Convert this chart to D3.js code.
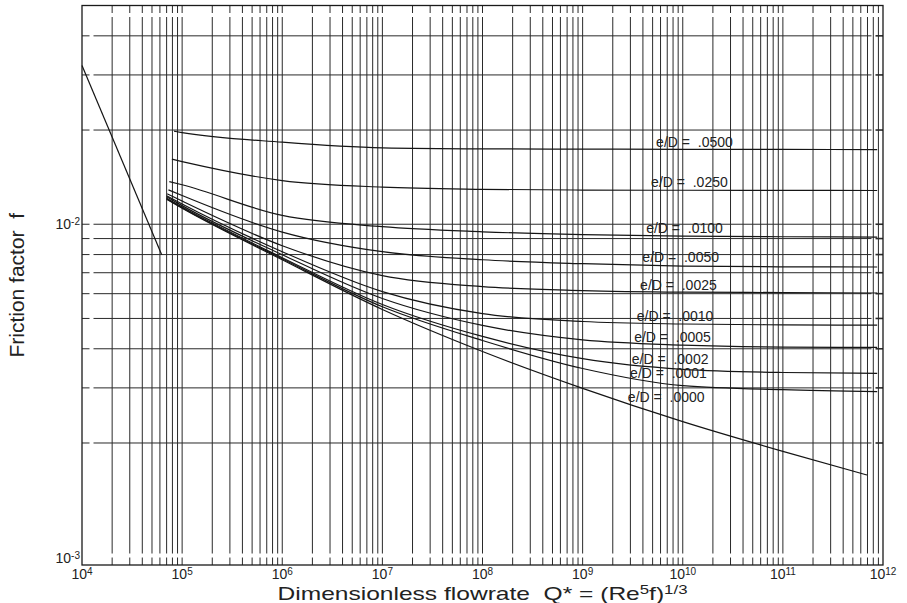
<!DOCTYPE html>
<html>
<head>
<meta charset="utf-8">
<script src="https://cdn.jsdelivr.net/npm/d3@7/dist/d3.min.js"></script>
<style>
  html, body { margin: 0; padding: 0; background: #fff; }
  svg { display: block; }
  text { font-family: "Liberation Sans", Arial, Helvetica, sans-serif; fill: #222; }
</style>
</head>
<body>
<svg id="chart" width="907" height="603"></svg>
<script>
// Relative roughness of each turbulent curve (label text)
const roughness = [".0500", ".0250", ".0100", ".0050", ".0025", ".0010", ".0005", ".0002", ".0001", ".0000"];

// Flowrate Q* where each turbulent curve begins and ends
const qStart = [8.3e4, 7.9e4, 7.45e4, 7.3e4, 7.1e4, 7.0e4, 7.0e4, 7.0e4, 7.0e4, 7.0e4];
const qEnd   = [8.75e11, 8.75e11, 8.75e11, 8.75e11, 8.75e11, 8.75e11, 8.75e11, 8.75e11, 8.75e11, 6.95e11];
// Interior flowrates shared by all curves
const qInner = [1e5, 1e6, 1e7, 1e8, 1e9, 1e10, 1e11];

// Friction factor along each curve: [start, 1e5, 1e6, 1e7, 1e8, 1e9, 1e10, 1e11, end]
const f0500 = [0.01983, 0.01963, 0.01829, 0.01754, 0.01741, 0.01738, 0.01735, 0.01734, 0.01732];
const f0250 = [0.01614, 0.01586, 0.01379, 0.01314, 0.01293, 0.01286, 0.01284, 0.01283, 0.01282];
const f0100 = [0.01369, 0.01337, 0.01067, 0.00982, 0.00946, 0.00926, 0.00916, 0.00912, 0.00910];
const f0050 = [0.01288, 0.01235, 0.00944, 0.00817, 0.00770, 0.00748, 0.00735, 0.00731, 0.00730];
const f0025 = [0.01251, 0.01186, 0.00854, 0.00685, 0.00632, 0.00614, 0.00607, 0.00605, 0.00603];
const f0010 = [0.01233, 0.01160, 0.00817, 0.00609, 0.00518, 0.00489, 0.00480, 0.00477, 0.00476];
const f0005 = [0.01224, 0.01147, 0.00799, 0.00579, 0.00475, 0.00427, 0.00411, 0.00405, 0.00404];
const f0002 = [0.01210, 0.01135, 0.00782, 0.00554, 0.00438, 0.00372, 0.00344, 0.00336, 0.00334];
const f0001 = [0.01206, 0.01129, 0.00776, 0.00545, 0.00425, 0.00346, 0.00305, 0.00296, 0.00292];
const f0000 = [0.01201, 0.01125, 0.00770, 0.00534, 0.00392, 0.00299, 0.00234, 0.00188, 0.00158];
const frictionSeries = [f0500, f0250, f0100, f0050, f0025, f0010, f0005, f0002, f0001, f0000];

// Laminar line end points (Q*, f)
const laminarQ = [1e4, 6.25e4];
const laminarF = [0.03215, 0.00799];

// Curve label anchor points (Q*, f)
const labelQ = [5.42e9, 4.83e9, 4.31e9, 3.95e9, 3.75e9, 3.47e9, 3.27e9, 3.10e9, 2.98e9, 2.83e9];
const labelF = [0.01837, 0.01363, 0.00973, 0.00786, 0.00641, 0.00510, 0.00437, 0.00372, 0.00334, 0.00281];

// Axis extents and tick labels
const xDomain = [1e4, 1e12];
const yDomain = [8.15e-4, 5e-2];
const xTickExponents = [4, 5, 6, 7, 8, 9, 10, 11, 12];
const yTickValues = [1e-2, yDomain[0]];
const yTickExponents = ["-2", "-3"];

const svg = d3.select("#chart");
const plot = { left: 82, right: 883, top: 5.5, bottom: 565 };

const x = d3.scaleLog().domain(xDomain).range([plot.left, plot.right]);
const y = d3.scaleLog().domain(yDomain).range([plot.bottom, plot.top]);

const TICK = 7.5, GAP = 4;

// Grid values (interior only; the frame draws the edges)
const xGrid = [];
for (let e = 4; e < 12; e++) for (let m = 1; m <= 9; m++) {
  const v = m * Math.pow(10, e);
  if (v > xDomain[0] && v < xDomain[1]) xGrid.push(v);
}
const yGrid = [];
for (let e = -3; e < -1; e++) for (let m = (e === -3 ? 2 : 1); m <= 9; m++) {
  const v = m * Math.pow(10, e);
  if (v < yDomain[1] * 0.9999) yGrid.push(v);
}

const grid = svg.append("g").attr("stroke", "#2a2a2a").attr("stroke-width", 1).attr("fill", "none");

// vertical grid lines, broken near the frame with short ticks at each end
xGrid.forEach(v => {
  const px = x(v);
  grid.append("line").attr("x1", px).attr("x2", px)
    .attr("y1", plot.top + TICK + GAP).attr("y2", plot.bottom - TICK - GAP);
  grid.append("line").attr("x1", px).attr("x2", px)
    .attr("y1", plot.top).attr("y2", plot.top + TICK);
  grid.append("line").attr("x1", px).attr("x2", px)
    .attr("y1", plot.bottom - TICK).attr("y2", plot.bottom);
});

// horizontal grid lines, same treatment
yGrid.forEach(v => {
  const py = y(v);
  grid.append("line").attr("y1", py).attr("y2", py)
    .attr("x1", plot.left + TICK + GAP).attr("x2", plot.right - TICK - GAP);
  grid.append("line").attr("y1", py).attr("y2", py)
    .attr("x1", plot.left).attr("x2", plot.left + TICK);
  grid.append("line").attr("y1", py).attr("y2", py)
    .attr("x1", plot.right - TICK).attr("x2", plot.right)
    .attr("stroke-width", 1.6);
});

// frame
svg.append("rect")
  .attr("x", plot.left).attr("y", plot.top)
  .attr("width", plot.right - plot.left).attr("height", plot.bottom - plot.top)
  .attr("fill", "none").attr("stroke", "#1a1a1a").attr("stroke-width", 1.3);

// curves
const line = d3.line()
  .x(d => x(d[0]))
  .y(d => y(d[1]))
  .curve(d3.curveMonotoneX);

const curves = svg.append("g").attr("fill", "none").attr("stroke", "#151515").attr("stroke-width", 1.2);

frictionSeries.forEach((fs, i) => {
  const qs = [qStart[i], ...qInner, qEnd[i]];
  const pts = qs.map((q, j) => [q, fs[j]]);
  curves.append("path").attr("d", line(pts));
});

// laminar branch
curves.append("path")
  .attr("d", line(laminarQ.map((q, j) => [q, laminarF[j]])));

// curve labels
const labels = svg.append("g").attr("font-size", 14);
roughness.forEach((r, i) => {
  labels.append("text")
    .attr("x", x(labelQ[i]))
    .attr("y", y(labelF[i]))
    .attr("dy", "0.36em")
    .style("white-space", "pre")
    .text("e/D =  " + r);
});

// x tick labels
const xt = svg.append("g").attr("font-size", 14).attr("text-anchor", "middle");
xTickExponents.forEach(e => {
  const t = xt.append("text")
    .attr("x", x(Math.pow(10, e)))
    .attr("y", plot.bottom + 14);
  t.append("tspan").text("10");
  t.append("tspan").attr("font-size", 10).attr("dy", -4).text(e);
});

// y tick labels
const yt = svg.append("g").attr("font-size", 14).attr("text-anchor", "end");
yTickValues.forEach((v, i) => {
  const t = yt.append("text")
    .attr("x", plot.left - 2)
    .attr("y", Math.min(y(v) + 5, plot.bottom - 2));
  t.append("tspan").text("10");
  t.append("tspan").attr("font-size", 10).attr("dy", -4).text(yTickExponents[i]);
});

// axis titles
const xTitle = svg.append("text")
  .attr("x", (plot.left + plot.right) / 2)
  .attr("y", 600)
  .attr("text-anchor", "middle")
  .attr("font-size", 19)
  .attr("textLength", 410)
  .attr("lengthAdjust", "spacingAndGlyphs")
  .style("white-space", "pre");
xTitle.append("tspan").text("Dimensionless flowrate  Q* = (Re");
xTitle.append("tspan").attr("font-size", 13).attr("dy", -6).text("5");
xTitle.append("tspan").attr("dy", 6).text("f)");
xTitle.append("tspan").attr("font-size", 13).attr("dy", -6).text("1/3");

svg.append("text")
  .attr("transform", `translate(24,${(plot.top + plot.bottom) / 2}) rotate(-90)`)
  .attr("text-anchor", "middle")
  .attr("font-size", 21)
  .style("white-space", "pre")
  .text("Friction factor  f");
</script>
</body>
</html>
